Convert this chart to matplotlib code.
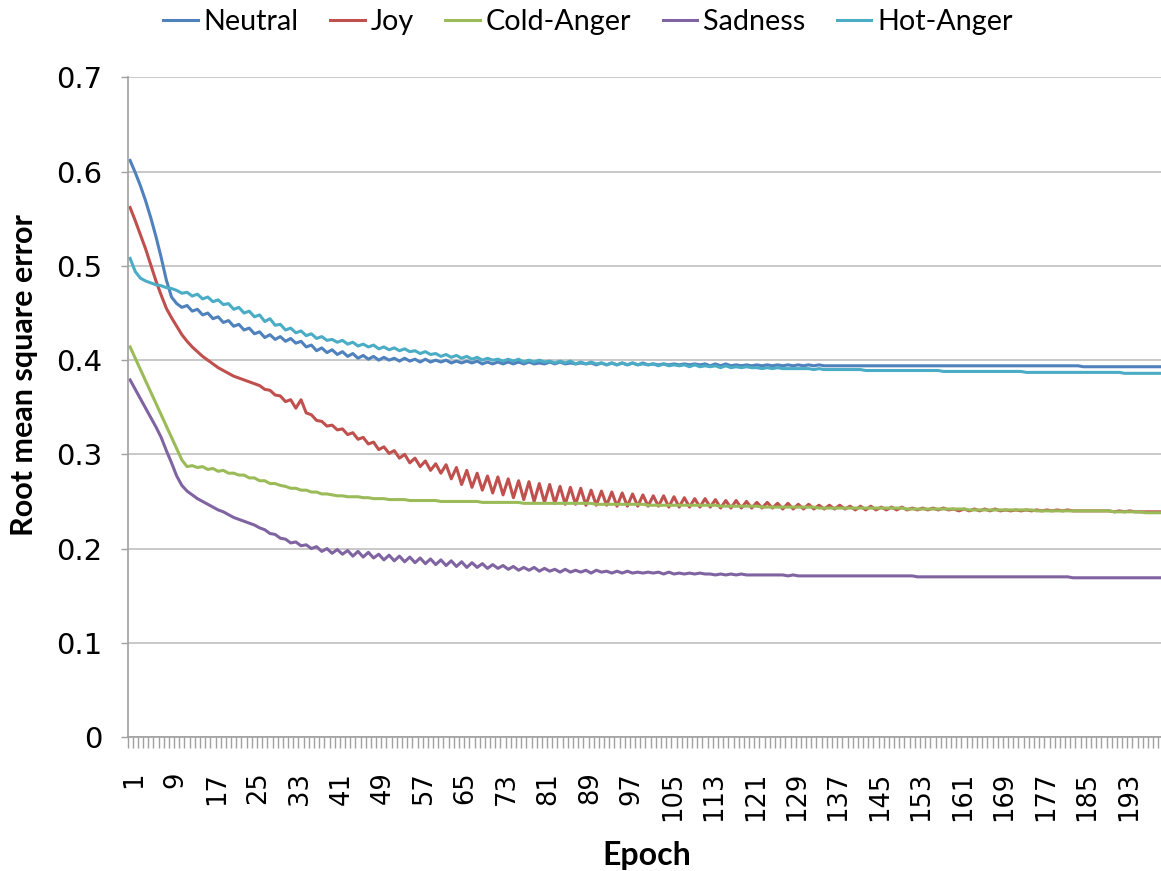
import matplotlib
matplotlib.use("Agg")
import matplotlib.pyplot as plt
from matplotlib.ticker import FixedLocator
from matplotlib.transforms import ScaledTranslation
import numpy as np

# Training error per epoch for each emotion model
epochs = list(range(1, 201))

neutral = [
    .612, .599, .585, .569, .551, .531, .509, .485, .467, .460,
    .456, .458, .452, .454, .448, .450, .444, .446, .440, .442,
    .436, .438, .432, .434, .428, .430, .424, .427, .422, .425,
    .420, .423, .418, .420, .414, .416, .410, .413, .408, .411,
    .406, .409, .404, .407, .402, .405, .401, .404, .400, .403,
    .400, .402, .399, .402, .399, .401, .398, .401, .398, .400,
    .398, .400, .397, .399, .397, .399, .397, .399, .396, .398,
    .396, .398, .396, .398, .396, .398, .396, .398, .396, .397,
    .396, .398, .396, .398, .396, .397, .396, .397, .396, .397,
    .395, .397, .395, .397, .395, .397, .395, .397, .395, .397,
    .395, .396, .395, .396, .395, .396, .395, .396, .395, .396,
    .395, .396, .394, .396, .394, .396, .394, .395, .394, .395,
    .394, .395, .394, .395, .394, .395, .394, .395, .394, .395,
    .394, .395, .394, .395, .394, .394, .394, .394, .394, .394,
    .394, .394, .394, .394, .394, .394, .394, .394, .394, .394,
    .394, .394, .394, .394, .394, .394, .394, .394, .394, .394,
    .394, .394, .394, .394, .394, .394, .394, .394, .394, .394,
    .394, .394, .394, .394, .394, .394, .394, .394, .394, .394,
    .394, .394, .394, .394, .393, .393, .393, .393, .393, .393,
    .393, .393, .393, .393, .393, .393, .393, .393, .393, .393,
]

joy = [
    .562, .548, .533, .518, .501, .484, .469, .455, .445, .436,
    .427, .420, .414, .409, .404, .400, .396, .392, .389, .386,
    .383, .381, .379, .377, .375, .373, .369, .368, .363, .362,
    .356, .358, .349, .358, .344, .342, .336, .335, .330, .331,
    .326, .327, .321, .323, .316, .318, .311, .313, .305, .308,
    .301, .304, .296, .300, .291, .296, .287, .293, .283, .290,
    .280, .289, .274, .286, .268, .283, .265, .280, .262, .277,
    .259, .276, .257, .274, .254, .272, .252, .271, .250, .269,
    .249, .268, .248, .266, .247, .265, .247, .264, .246, .262,
    .246, .261, .246, .260, .245, .259, .245, .258, .245, .257,
    .245, .256, .245, .256, .244, .255, .244, .254, .244, .253,
    .244, .253, .244, .252, .243, .251, .243, .251, .243, .250,
    .243, .249, .243, .249, .243, .248, .242, .248, .242, .247,
    .242, .247, .242, .246, .242, .246, .242, .246, .242, .245,
    .241, .245, .241, .245, .241, .244, .241, .244, .241, .244,
    .241, .243, .241, .243, .241, .243, .241, .243, .241, .242,
    .240, .242, .240, .242, .240, .242, .240, .242, .240, .241,
    .240, .241, .240, .241, .240, .241, .240, .241, .240, .241,
    .240, .241, .240, .240, .240, .240, .240, .240, .240, .240,
    .239, .240, .239, .240, .239, .239, .239, .239, .239, .239,
]

cold_anger = [
    .414, .402, .390, .378, .366, .354, .342, .330, .318, .306,
    .294, .287, .288, .286, .287, .284, .285, .282, .283, .280,
    .280, .278, .278, .275, .275, .272, .272, .269, .269, .267,
    .266, .264, .264, .262, .262, .260, .260, .258, .258, .257,
    .256, .256, .255, .255, .255, .254, .254, .253, .253, .253,
    .252, .252, .252, .252, .251, .251, .251, .251, .251, .251,
    .250, .250, .250, .250, .250, .250, .250, .250, .249, .249,
    .249, .249, .249, .249, .249, .249, .248, .248, .248, .248,
    .248, .248, .248, .248, .248, .248, .248, .248, .248, .248,
    .247, .247, .247, .247, .247, .247, .247, .247, .247, .247,
    .246, .246, .246, .246, .246, .246, .246, .246, .246, .246,
    .246, .246, .246, .246, .245, .245, .245, .245, .245, .245,
    .245, .245, .244, .244, .244, .244, .244, .244, .244, .244,
    .244, .244, .244, .243, .243, .243, .243, .243, .243, .243,
    .243, .243, .243, .243, .243, .243, .243, .243, .243, .243,
    .242, .242, .242, .242, .242, .242, .242, .242, .242, .242,
    .242, .242, .241, .241, .241, .241, .241, .241, .241, .241,
    .241, .241, .241, .241, .241, .240, .240, .240, .240, .240,
    .240, .240, .240, .240, .240, .240, .240, .240, .240, .240,
    .239, .239, .239, .239, .239, .239, .238, .238, .238, .238,
]

sadness = [
    .379, .369, .359, .349, .339, .329, .318, .304, .291, .277,
    .267, .261, .257, .253, .250, .247, .244, .241, .239, .236,
    .233, .231, .229, .227, .225, .222, .220, .216, .215, .211,
    .210, .206, .207, .203, .204, .200, .202, .197, .200, .195,
    .199, .194, .198, .192, .197, .191, .196, .190, .194, .188,
    .193, .187, .192, .186, .191, .185, .190, .184, .189, .183,
    .188, .182, .187, .181, .186, .180, .185, .180, .184, .179,
    .183, .179, .182, .178, .181, .177, .180, .177, .180, .176,
    .179, .176, .178, .175, .178, .175, .177, .175, .177, .174,
    .177, .175, .176, .174, .176, .174, .176, .174, .175, .174,
    .175, .174, .175, .173, .175, .173, .174, .173, .174, .173,
    .174, .173, .173, .172, .173, .172, .173, .172, .173, .172,
    .172, .172, .172, .172, .172, .172, .172, .171, .172, .171,
    .171, .171, .171, .171, .171, .171, .171, .171, .171, .171,
    .171, .171, .171, .171, .171, .171, .171, .171, .171, .171,
    .171, .171, .170, .170, .170, .170, .170, .170, .170, .170,
    .170, .170, .170, .170, .170, .170, .170, .170, .170, .170,
    .170, .170, .170, .170, .170, .170, .170, .170, .170, .170,
    .170, .170, .169, .169, .169, .169, .169, .169, .169, .169,
    .169, .169, .169, .169, .169, .169, .169, .169, .169, .169,
]

hot_anger = [
    .508, .494, .487, .484, .482, .480, .479, .477, .476, .474,
    .471, .472, .468, .470, .465, .467, .462, .464, .459, .460,
    .454, .456, .450, .452, .446, .448, .441, .444, .437, .438,
    .432, .434, .429, .431, .426, .428, .423, .425, .421, .422,
    .419, .421, .417, .419, .415, .417, .414, .416, .412, .414,
    .411, .413, .410, .412, .409, .410, .407, .409, .406, .407,
    .404, .406, .403, .405, .402, .404, .401, .403, .400, .402,
    .400, .401, .399, .401, .399, .401, .398, .400, .398, .400,
    .398, .399, .397, .399, .397, .399, .396, .398, .396, .398,
    .396, .397, .395, .397, .395, .397, .395, .397, .395, .396,
    .395, .396, .394, .396, .394, .395, .394, .395, .393, .395,
    .393, .394, .393, .394, .392, .394, .392, .393, .392, .393,
    .392, .392, .391, .392, .391, .392, .391, .391, .391, .391,
    .391, .391, .390, .391, .390, .390, .390, .390, .390, .390,
    .390, .390, .389, .389, .389, .389, .389, .389, .389, .389,
    .389, .389, .389, .389, .389, .389, .389, .388, .388, .388,
    .388, .388, .388, .388, .388, .388, .388, .388, .388, .388,
    .388, .388, .388, .387, .387, .387, .387, .387, .387, .387,
    .387, .387, .387, .387, .387, .387, .387, .387, .387, .387,
    .387, .387, .386, .386, .386, .386, .386, .386, .386, .386,
]

series_names = ["Neutral", "Joy", "Cold-Anger", "Sadness", "Hot-Anger"]
series_values = [neutral, joy, cold_anger, sadness, hot_anger]
series_colors = ["#4F81BD", "#C0504D", "#9BBB59", "#8064A2", "#4BACC6"]

y_ticks = [0, 0.1, 0.2, 0.3, 0.4, 0.5, 0.6, 0.7]
y_tick_labels = ["0", "0.1", "0.2", "0.3", "0.4", "0.5", "0.6", "0.7"]
x_tick_epochs = list(range(1, 201, 8))

W, H = 1161, 871
fig = plt.figure(figsize=(W / 100, H / 100), dpi=100)
ax = fig.add_axes([127.5 / W, 1 - 737 / H, 1036 / W, (737 - 77.5) / H])

for name, vals, col in zip(series_names, series_values, series_colors):
    ax.plot(epochs, vals, color=col, lw=2.2, label=name, solid_joinstyle="round")

ax.set_xlim(0.5, 200.5)
ax.set_ylim(0, 0.7)

grid_col = "#BFBFBF"
ax.set_yticks(y_ticks)
ax.set_yticklabels(y_tick_labels, fontsize=21, family="DejaVu Sans")
ax.yaxis.grid(True, color=grid_col, lw=1.2)
ax.set_axisbelow(True)
ax.tick_params(axis="y", length=5, width=1, color="#A0A0A0", pad=13)

ax.set_xticks(x_tick_epochs)
ax.set_xticklabels([str(e) for e in x_tick_epochs], rotation=90,
                   fontsize=18.5, family="DejaVu Sans")
ax.xaxis.set_minor_locator(FixedLocator(np.arange(0.5, 201, 1.0)))
ax.tick_params(axis="x", which="major", length=0, pad=25)
ax.tick_params(axis="x", which="minor", length=8, width=1, color="#A0A0A0")
shift = ScaledTranslation(4 / 100, 0, fig.dpi_scale_trans)
for lab in ax.get_xticklabels():
    lab.set_transform(lab.get_transform() + shift)

for side in ("top", "right"):
    ax.spines[side].set_visible(False)
for side in ("left", "bottom"):
    ax.spines[side].set_color("#A0A0A0")
    ax.spines[side].set_linewidth(1.2)

fig.text(24 / W, 1 - 375 / H, "Root mean square error", rotation=90,
         ha="center", va="center", fontsize=22, fontweight="bold", family="Lato")
fig.text(647 / W, 1 - 855 / H, "Epoch", ha="center", va="center",
         fontsize=23, fontweight="bold", family="Lato")

fig.legend(loc="center", bbox_to_anchor=(588 / W, 1 - 22 / H), ncol=5,
           frameon=False, prop={"family": "Lato", "size": 20.7},
           handlelength=1.2, handletextpad=0.2, columnspacing=1.1)

fig.savefig("out.png", dpi=100)
